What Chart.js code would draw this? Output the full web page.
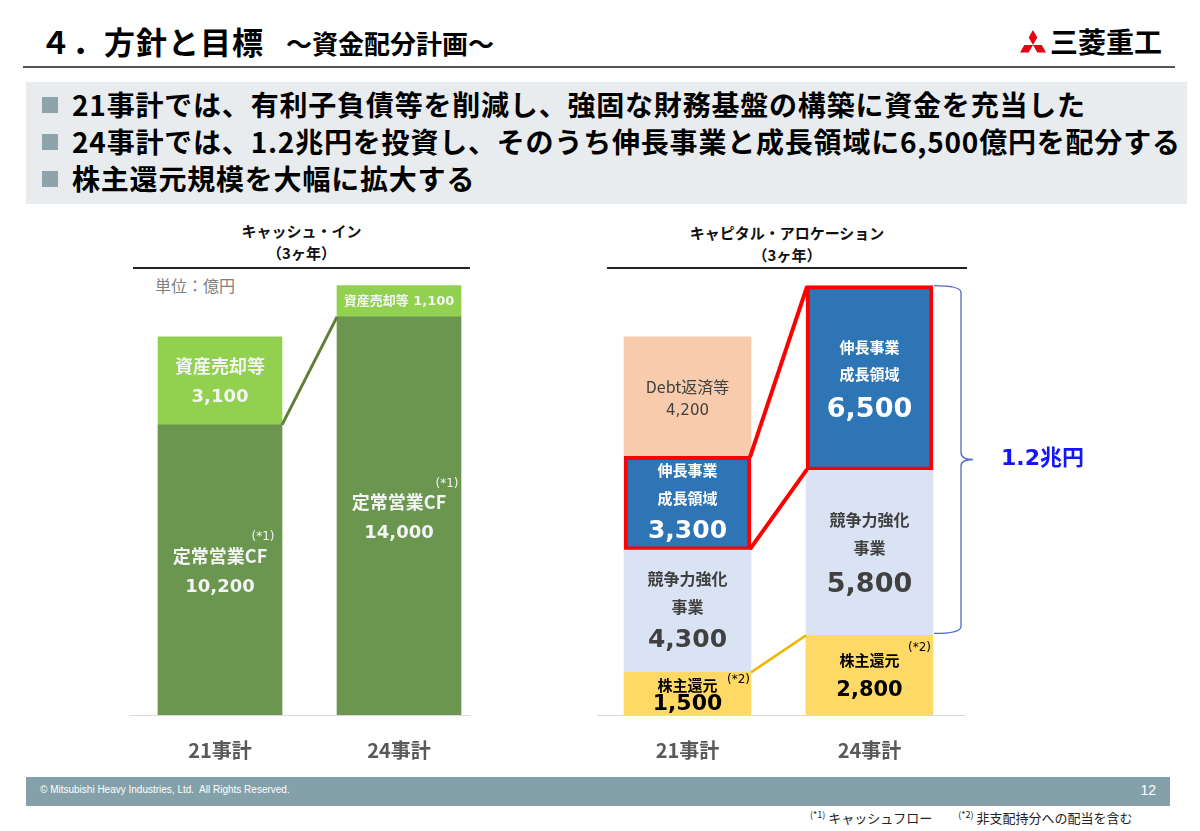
<!DOCTYPE html>
<html lang="ja">
<head>
<meta charset="utf-8">
<script src="https://cdn.jsdelivr.net/npm/chart.js@4.4.1/dist/chart.umd.min.js"></script>
<style>
  html, body { margin: 0; padding: 0; background: #fff; }
  body { width: 1200px; height: 831px; position: relative; overflow: hidden;
         font-family: "Noto Sans CJK JP", sans-serif; color: #000; }
  .abs { position: absolute; }
  #title { left: 40px; top: 20px; font-size: 31px; letter-spacing: 1px; font-weight: bold; white-space: nowrap; line-height: 42px; }
  #title span { font-size: 26px; letter-spacing: 0; margin-left: 22px; }
  #rule { left: 23px; top: 66px; width: 1152px; height: 2px; background: #555; }
  #logo { left: 1020px; top: 26px; white-space: nowrap; }
  #logo svg { position: absolute; left: 0; top: 4px; }
  #logo div { position: absolute; left: 30px; top: -2px; font-size: 28px; font-weight: bold; line-height: 34px; }
  #box { left: 26px; top: 82px; width: 1161px; height: 122px; background: #E8ECEF; }
  .bl { position: absolute; left: 46px; font-size: 28px; letter-spacing: 0.8px; font-weight: bold; line-height: 36px; white-space: nowrap; }
  .sq { position: absolute; left: 16px; width: 16px; height: 16px; background: #8FA3AC; }
  .hdr { text-align: center; font-size: 15px; font-weight: bold; line-height: 22px; color: #111; }
  .hline { height: 2px; background: #222; }
  .base { height: 1px; background: #d9d9d9; }
  #unit { left: 155px; top: 273px; font-size: 16px; color: #808080; }
  canvas { position: absolute; }
  #footer { left: 26px; top: 777px; width: 1144px; height: 29px; background: #84A1A9; color: #fff; }
  #footer .c { position: absolute; left: 14px; top: 7px; font-family: "Liberation Sans Narrow", "Liberation Sans", sans-serif; font-size: 10px; }
  #footer .p { position: absolute; right: 14px; top: 5px; font-family: "Liberation Sans Narrow", "Liberation Sans", sans-serif; font-size: 14px; }
  #note { left: 810px; top: 808px; font-size: 13px; white-space: nowrap; color: #222; }
  #note sup { font-size: 9px; }
</style>
</head>
<body>
<div id="title" class="abs">４．方針と目標<span>～資金配分計画～</span></div>
<div id="logo" class="abs">
  <svg width="26" height="24" viewBox="0 0 26 24">
    <polygon points="13,0 17.3,7.5 13,15 8.7,7.5" fill="#E60012"/>
    <polygon points="13,15 4.3,15 0,22.5 8.7,22.5" fill="#E60012"/>
    <polygon points="13,15 21.7,15 26,22.5 17.3,22.5" fill="#E60012"/>
  </svg>
  <div>三菱重工</div>
</div>
<div id="rule" class="abs"></div>

<div id="box" class="abs">
  <div class="sq" style="top:15px"></div><div class="bl" style="top:4px">21事計では、有利子負債等を削減し、強固な財務基盤の構築に資金を充当した</div>
  <div class="sq" style="top:52px"></div><div class="bl" style="top:41px">24事計では、1.2兆円を投資し、そのうち伸長事業と成長領域に6,500億円を配分する</div>
  <div class="sq" style="top:89px"></div><div class="bl" style="top:78px">株主還元規模を大幅に拡大する</div>
</div>

<div class="abs hdr" style="left:133px;top:220px;width:337px">キャッシュ・イン<br>（3ヶ年）</div>
<div class="abs hline" style="left:133px;top:267px;width:337px"></div>
<div class="abs hdr" style="left:607px;top:222px;width:360px">キャピタル・アロケーション<br>（3ヶ年）</div>
<div class="abs hline" style="left:607px;top:267px;width:360px"></div>
<div id="unit" class="abs">単位：億円</div>
<div class="abs base" style="left:130px;top:715px;width:340px"></div>
<div class="abs base" style="left:597px;top:715px;width:368px"></div>

<canvas id="cashIn" width="380" height="510" style="left:120px;top:260px;width:380px;height:510px"></canvas>
<canvas id="alloc" width="520" height="510" style="left:590px;top:260px;width:520px;height:510px"></canvas>

<div id="footer" class="abs"><div class="c">© Mitsubishi Heavy Industries, Ltd.&nbsp; All Rights Reserved.</div><div class="p">12</div></div>
<div id="note" class="abs"><sup>(*1)</sup> キャッシュフロー　　<sup>(*2)</sup> 非支配持分への配当を含む</div>

<script>
const years = ['21事計', '24事計'];

// キャッシュ・イン（億円）
const operatingCF = [10200, 14000];
const assetSales = [3100, 1100];

// キャピタル・アロケーション（億円）
const shareholderReturn = [1500, 2800];
const competitiveness = [4300, 5800];
const growthAreas = [3300, 6500];
const debtRepayment = [4200, null];

const totalInvestLabel = '1.2兆円';

const fmt = v => v.toLocaleString('en-US');
const JP = '"Noto Sans CJK JP", sans-serif';
const NUM = '"DejaVu Sans", "Noto Sans CJK JP", sans-serif';

// text inside a stacked segment, offsets from the segment centre
const segLabels = {
  id: 'segLabels',
  afterDatasetsDraw(chart, args, opts) {
    const ctx = chart.ctx;
    ctx.save();
    ctx.textBaseline = 'middle';
    (opts.items || []).forEach(it => {
      const el = chart.getDatasetMeta(it.ds).data[it.idx];
      const cy = (el.y + el.base) / 2;
      it.lines.forEach(l => {
        ctx.font = l.font;
        ctx.fillStyle = l.color;
        ctx.textAlign = l.align || 'center';
        ctx.fillText(l.text, el.x + (l.dx || 0), cy + l.dy);
      });
    });
    ctx.restore();
  }
};

function line(ctx, x1, y1, x2, y2, color, w) {
  ctx.save();
  ctx.strokeStyle = color;
  ctx.lineWidth = w;
  ctx.beginPath();
  ctx.moveTo(x1, y1);
  ctx.lineTo(x2, y2);
  ctx.stroke();
  ctx.restore();
}

const cashConnector = {
  id: 'cashConnector',
  afterDatasetsDraw(chart) {
    const m = chart.getDatasetMeta(0).data;
    line(chart.ctx, m[0].x + m[0].width / 2, m[0].y, m[1].x - m[1].width / 2, m[1].y, '#5E7F37', 3);
  }
};

const allocConnector = {
  id: 'allocConnector',
  afterDatasetsDraw(chart) {
    const ctx = chart.ctx;
    const sr = chart.getDatasetMeta(0).data;
    const cp = chart.getDatasetMeta(1).data;
    const gr = chart.getDatasetMeta(2).data;
    const r0 = gr[0].x + gr[0].width / 2, l1 = gr[1].x - gr[1].width / 2;
    line(ctx, r0 - 1, gr[0].y + 1, l1 + 1, gr[1].y + 1, '#FF0000', 4);
    line(ctx, r0 - 1, gr[0].base - 1, l1 + 1, gr[1].base - 1, '#FF0000', 4);
    line(ctx, sr[0].x + sr[0].width / 2, sr[0].y, sr[1].x - sr[1].width / 2, sr[1].y, '#F2B705', 2.5);

    // brace over the 24事計 investment (growth + competitiveness)
    const top = gr[1].y;
    const bottom = cp[1].base - 2;
    const mid = (top + bottom) / 2;
    const xL = gr[1].x + gr[1].width / 2 + 1, xM = xL + 27, xT = xL + 39, r = 7;
    ctx.save();
    ctx.strokeStyle = '#5468C8';
    ctx.lineWidth = 1.3;
    ctx.beginPath();
    ctx.moveTo(xL, top);
    ctx.quadraticCurveTo(xM, top, xM, top + r);
    ctx.lineTo(xM, mid - r);
    ctx.quadraticCurveTo(xM, mid, xT, mid);
    ctx.quadraticCurveTo(xM, mid, xM, mid + r);
    ctx.lineTo(xM, bottom - r);
    ctx.quadraticCurveTo(xM, bottom, xL, bottom);
    ctx.stroke();
    ctx.font = 'bold 22px ' + NUM;
    ctx.fillStyle = '#1414FF';
    ctx.textAlign = 'left';
    ctx.textBaseline = 'middle';
    ctx.fillText(totalInvestLabel, xT + 28, mid);
    ctx.restore();
  }
};

function baseOptions(pad, items) {
  return {
    responsive: false,
    animation: false,
    layout: { padding: pad },
    plugins: { legend: { display: false }, tooltip: { enabled: false }, segLabels: { items } },
    scales: {
      x: {
        stacked: true,
        grid: { display: false },
        border: { display: false },
        ticks: { color: '#595959', padding: 15, font: { family: JP, size: 20, weight: 'bold' } },
        afterFit(scale) { scale.height = 55; }
      },
      y: { stacked: true, display: false, min: 0, max: 16000 }
    }
  };
}

const W = '#F4F4F4';
const cashItems = [
  { ds: 0, idx: 0, lines: [
    { text: '定常営業CF', dy: -14, font: 'bold 18px ' + JP, color: W },
    { text: '(*1)', dy: -33, dx: 43, font: '12px ' + NUM, color: W },
    { text: fmt(operatingCF[0]), dy: 17, font: 'bold 18px ' + NUM, color: W } ] },
  { ds: 0, idx: 1, lines: [
    { text: '定常営業CF', dy: -14, font: 'bold 18px ' + JP, color: W },
    { text: '(*1)', dy: -32, dx: 48, font: '12px ' + NUM, color: W },
    { text: fmt(operatingCF[1]), dy: 17, font: 'bold 18px ' + NUM, color: W } ] },
  { ds: 1, idx: 0, lines: [
    { text: '資産売却等', dy: -15, font: 'bold 18px ' + JP, color: W },
    { text: fmt(assetSales[0]), dy: 16, font: 'bold 18px ' + NUM, color: W } ] },
  { ds: 1, idx: 1, lines: [
    { text: '資産売却等 ' + fmt(assetSales[1]), dy: 0, font: 'bold 13px ' + NUM, color: W } ] }
];

new Chart(document.getElementById('cashIn'), {
  type: 'bar',
  data: {
    labels: years,
    datasets: [
      { label: '定常営業CF', data: operatingCF, backgroundColor: '#6A9650', barThickness: 124 },
      { label: '資産売却等', data: assetSales, backgroundColor: '#92D050', barThickness: 124 }
    ]
  },
  options: baseOptions({ left: 10.5, right: 11.5, top: 0, bottom: 0 }, cashItems),
  plugins: [segLabels, cashConnector]
});

const G = '#404040';
const allocItems = [
  { ds: 0, idx: 0, lines: [
    { text: '株主還元', dy: -8, font: 'bold 15px ' + JP, color: '#000' },
    { text: '(*2)', dy: -14, dx: 51, font: '12px ' + NUM, color: '#000' },
    { text: fmt(shareholderReturn[0]), dy: 11, font: 'bold 22px ' + NUM, color: '#000' } ] },
  { ds: 0, idx: 1, lines: [
    { text: '株主還元', dy: -15, font: 'bold 15px ' + JP, color: '#000' },
    { text: '(*2)', dy: -27, dx: 50, font: '12px ' + NUM, color: '#000' },
    { text: fmt(shareholderReturn[1]), dy: 15, font: 'bold 21px ' + NUM, color: '#000' } ] },
  { ds: 1, idx: 0, lines: [
    { text: '競争力強化', dy: -32, font: 'bold 16px ' + JP, color: G },
    { text: '事業', dy: -4, font: 'bold 16px ' + JP, color: G },
    { text: fmt(competitiveness[0]), dy: 29, font: 'bold 25px ' + NUM, color: G } ] },
  { ds: 1, idx: 1, lines: [
    { text: '競争力強化', dy: -33, font: 'bold 16px ' + JP, color: G },
    { text: '事業', dy: -5, font: 'bold 16px ' + JP, color: G },
    { text: fmt(competitiveness[1]), dy: 32, font: 'bold 27px ' + NUM, color: G } ] },
  { ds: 2, idx: 0, lines: [
    { text: '伸長事業', dy: -33, font: 'bold 15px ' + JP, color: '#fff' },
    { text: '成長領域', dy: -5, font: 'bold 15px ' + JP, color: '#fff' },
    { text: fmt(growthAreas[0]), dy: 28, font: 'bold 25px ' + NUM, color: '#fff' } ] },
  { ds: 2, idx: 1, lines: [
    { text: '伸長事業', dy: -31, font: 'bold 15px ' + JP, color: '#fff' },
    { text: '成長領域', dy: -4, font: 'bold 15px ' + JP, color: '#fff' },
    { text: fmt(growthAreas[1]), dy: 32, font: 'bold 27px ' + NUM, color: '#fff' } ] },
  { ds: 3, idx: 0, lines: [
    { text: 'Debt返済等', dy: -10, font: '16px ' + JP, color: G },
    { text: fmt(debtRepayment[0]), dy: 15, font: '15px ' + NUM, color: G } ] }
];

new Chart(document.getElementById('alloc'), {
  type: 'bar',
  data: {
    labels: years,
    datasets: [
      { label: '株主還元', data: shareholderReturn, backgroundColor: '#FFD966', barThickness: 127 },
      { label: '競争力強化事業', data: competitiveness, backgroundColor: '#DAE3F3', barThickness: 127 },
      { label: '伸長事業・成長領域', data: growthAreas, backgroundColor: '#2E75B6', barThickness: 127,
        borderColor: '#FF0000', borderWidth: 4, borderSkipped: false },
      { label: 'Debt返済等', data: debtRepayment, backgroundColor: '#F8CBAD', barThickness: 127 }
    ]
  },
  options: baseOptions({ left: 6.5, right: 149.5, top: 0, bottom: 0 }, allocItems),
  plugins: [segLabels, allocConnector]
});
</script>
</body>
</html>
